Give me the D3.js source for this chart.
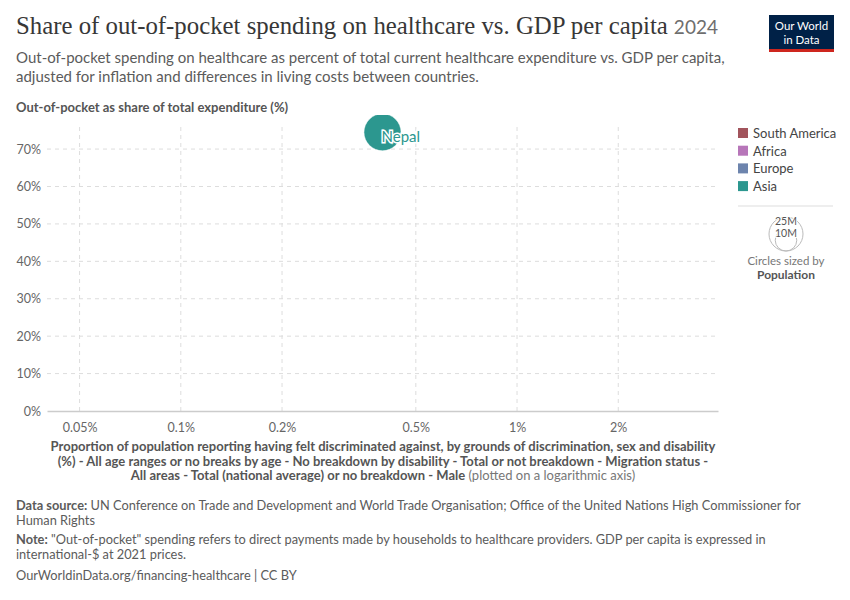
<!DOCTYPE html>
<html lang="en">
<head>
<meta charset="UTF-8">
<title>Share of out-of-pocket spending on healthcare vs. GDP per capita</title>
<script src="https://d3js.org/d3.v7.min.js"></script>
<style>
  body { margin: 0; background: #fff; }
  svg { font-family: Lato, "Noto Sans", sans-serif; }
  .grid line { stroke: #ddd; stroke-dasharray: 4,4; }
  .tick text { fill: #666; font-size: 12.5px; }
</style>
</head>
<body>
<div id="chart"></div>
<script>
// data
const countries = ["Nepal"];
const continents = ["Asia"];
const xValues = [0.398];   // discrimination share (%)
const yValues = [74.5];    // out-of-pocket share (%)
const populations = [29.7e6];

const legendNames = ["South America", "Africa", "Europe", "Asia"];
const legendColors = ["#a2545c", "#b776b9", "#6d84ad", "#2c978f"];
const xTicks = [0.05, 0.1, 0.2, 0.5, 1, 2];
const yTicks = [0, 10, 20, 30, 40, 50, 60, 70];

const W = 850, H = 600;
const svg = d3.select("#chart").append("svg").attr("width", W).attr("height", H);

const plot = { left: 47, right: 718, top: 127, bottom: 411 };
const x = d3.scaleLog().domain([0.04, 3.96]).range([plot.left, plot.right]);
const y = d3.scaleLinear().domain([0, 75.9]).range([plot.bottom, plot.top]);
const r = d3.scaleSqrt().domain([0, 25e6]).range([0, 17]);
const color = d3.scaleOrdinal().domain(legendNames).range(legendColors);

// header
svg.append("text").attr("x", 16).attr("y", 34)
  .style("font-family", "'Liberation Serif', 'DejaVu Serif', serif")
  .style("font-size", "24.8px").attr("fill", "#373737")
  .text("Share of out-of-pocket spending on healthcare vs. GDP per capita")
  .append("tspan").attr("dx", 6).style("font-family", "Lato, sans-serif")
  .style("font-size", "19px").attr("fill", "#6e6e6e").text("2024");

const sub = ["Out-of-pocket spending on healthcare as percent of total current healthcare expenditure vs. GDP per capita,",
  "adjusted for inflation and differences in living costs between countries."];
sub.forEach((t, i) => svg.append("text").attr("x", 16).attr("y", 63 + i * 19)
  .attr("fill", "#5b5b5b").style("font-size", "15px").text(t));

// logo
svg.append("rect").attr("x", 769).attr("y", 15).attr("width", 65).attr("height", 37).attr("fill", "#002147");
svg.append("rect").attr("x", 769).attr("y", 49).attr("width", 65).attr("height", 3).attr("fill", "#ce261e");
["Our World", "in Data"].forEach((t, i) => svg.append("text").attr("x", 801.5).attr("y", 30 + i * 13.5)
  .attr("text-anchor", "middle").attr("fill", "#fff").style("font-size", "11.5px").text(t));

// y axis title
svg.append("text").attr("x", 16).attr("y", 112).attr("fill", "#555")
  .style("font-size", "13px").style("font-weight", "bold")
  .text("Out-of-pocket as share of total expenditure (%)");

// grid
const g = svg.append("g");
g.append("g").attr("class", "grid").selectAll("line").data(yTicks.filter(d => d > 0)).join("line")
  .attr("x1", plot.left).attr("x2", plot.right).attr("y1", d => y(d)).attr("y2", d => y(d));
g.append("g").attr("class", "grid").selectAll("line").data(xTicks).join("line")
  .attr("x1", d => x(d)).attr("x2", d => x(d)).attr("y1", plot.top).attr("y2", plot.bottom);

// y axis labels
const yAxis = g.append("g").attr("transform", `translate(${plot.left},0)`)
  .call(d3.axisLeft(y).tickValues(yTicks).tickFormat(d => d + "%").tickSize(0).tickPadding(6));
yAxis.select(".domain").remove();
yAxis.selectAll(".tick text").style("font-family", "Lato, sans-serif");

// x axis
const xAxis = g.append("g").attr("transform", `translate(0,${plot.bottom})`)
  .call(d3.axisBottom(x).tickValues(xTicks).tickFormat(d => d + "%").tickSize(0).tickPadding(12));
xAxis.select(".domain").attr("stroke", "#ccc").attr("stroke-width", 1.5);
xAxis.selectAll(".tick text").style("font-family", "Lato, sans-serif");

// x axis title
const xt = [
  ["Proportion of population reporting having felt discriminated against, by grounds of discrimination, sex and disability", ""],
  ["(%) - All age ranges or no breaks by age - No breakdown by disability - Total or not breakdown - Migration status -", ""],
  ["All areas - Total (national average) or no breakdown - Male", " (plotted on a logarithmic axis)"]
];
xt.forEach((t, i) => {
  const tx = svg.append("text").attr("x", 383).attr("y", 451 + i * 14.5).attr("text-anchor", "middle")
    .attr("fill", "#555").style("font-size", "13px");
  tx.append("tspan").style("font-weight", "bold").text(t[0]);
  if (t[1]) tx.append("tspan").attr("fill", "#777").text(t[1]);
});

// points
const clip = svg.append("clipPath").attr("id", "clip").append("rect")
  .attr("x", plot.left).attr("y", plot.top - 12).attr("width", plot.right - plot.left).attr("height", plot.bottom - plot.top + 12);
const pts = countries.map((c, i) => ({ name: c, cont: continents[i], x: xValues[i], y: yValues[i], pop: populations[i] }));
g.append("g").attr("clip-path", "url(#clip)").selectAll("circle").data(pts).join("circle")
  .attr("cx", d => x(d.x)).attr("cy", d => y(d.y)).attr("r", d => r(d.pop))
  .attr("fill", d => color(d.cont)).attr("stroke", "#fff").attr("stroke-width", 0.5);
g.append("g").selectAll("text").data(pts).join("text")
  .attr("x", d => x(d.x) - 1).attr("y", d => y(d.y) + 10)
  .attr("fill", d => color(d.cont)).style("font-size", "15px")
  .attr("stroke", "#fff").attr("stroke-width", 3).attr("paint-order", "stroke")
  .text(d => d.name);

// legend
const lg = svg.append("g").attr("transform", "translate(738,0)");
legendNames.forEach((n, i) => {
  lg.append("rect").attr("x", 0).attr("y", 128 + i * 17.7).attr("width", 10).attr("height", 10).attr("fill", legendColors[i]);
  lg.append("text").attr("x", 15).attr("y", 138 + i * 17.7).attr("fill", "#444").style("font-size", "13px").text(n);
});
lg.append("line").attr("x1", 0).attr("x2", 95).attr("y1", 206).attr("y2", 206).attr("stroke", "#ddd");
const sizeCx = 48, sizeBase = 251;
[25e6, 10e6].forEach(p => {
  lg.append("circle").attr("cx", sizeCx).attr("cy", sizeBase - r(p)).attr("r", r(p))
    .attr("fill", "none").attr("stroke", "#bbb");
});
lg.append("text").attr("x", sizeCx).attr("y", sizeBase - 2 * r(25e6) + 8).attr("text-anchor", "middle")
  .attr("fill", "#555").style("font-size", "10.5px").attr("stroke", "#fff").attr("stroke-width", 2)
  .attr("paint-order", "stroke").text("25M");
lg.append("text").attr("x", sizeCx).attr("y", sizeBase - 2 * r(10e6) + 8).attr("text-anchor", "middle")
  .attr("fill", "#555").style("font-size", "10.5px").attr("stroke", "#fff").attr("stroke-width", 2)
  .attr("paint-order", "stroke").text("10M");
lg.append("text").attr("x", sizeCx).attr("y", 265).attr("text-anchor", "middle")
  .attr("fill", "#777").style("font-size", "11.5px").text("Circles sized by");
lg.append("text").attr("x", sizeCx).attr("y", 279).attr("text-anchor", "middle")
  .attr("fill", "#555").style("font-size", "12px").style("font-weight", "bold").text("Population");

// footer
const foot = [
  [["Data source:", true], [" UN Conference on Trade and Development and World Trade Organisation; Office of the United Nations High Commissioner for", false]],
  [["Human Rights", false]],
  [["Note:", true], [" \"Out-of-pocket\" spending refers to direct payments made by households to healthcare providers. GDP per capita is expressed in", false]],
  [["international-$ at 2021 prices.", false]],
  [["OurWorldinData.org/financing-healthcare | CC BY", false]]
];
const fy = [510, 525, 544, 559, 580];
foot.forEach((line, i) => {
  const t = svg.append("text").attr("x", 16).attr("y", fy[i]).attr("fill", "#5b5b5b").style("font-size", "12.8px");
  line.forEach(([s, b]) => t.append("tspan").style("font-weight", b ? "bold" : "normal").text(s));
});
</script>
</body>
</html>
